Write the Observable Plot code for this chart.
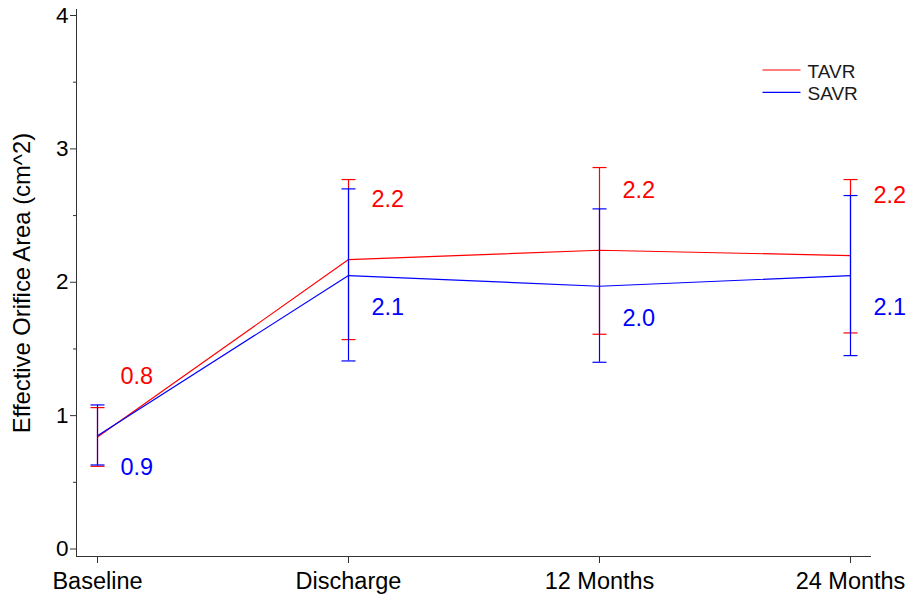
<!DOCTYPE html>
<html><head><meta charset="utf-8">
<script src="https://cdn.jsdelivr.net/npm/d3@7"></script>
<script src="https://cdn.jsdelivr.net/npm/@observablehq/plot@0.6"></script>
<style>body{margin:0;background:#fff}</style>
</head><body><div id="chart"></div>
<script>
const categories = ["Baseline", "Discharge", "12 Months", "24 Months"];
const seriesNames = ["TAVR", "SAVR"];
const seriesColors = ["#ff0000", "#0000ff"];
const tavrMean = [0.84, 2.17, 2.24, 2.20];
const tavrLow  = [0.62, 1.57, 1.61, 1.62];
const tavrHigh = [1.06, 2.77, 2.86, 2.77];
const tavrLabels = ["0.8", "2.2", "2.2", "2.2"];
const savrMean = [0.85, 2.05, 1.97, 2.05];
const savrLow  = [0.63, 1.41, 1.40, 1.45];
const savrHigh = [1.08, 2.70, 2.55, 2.65];
const savrLabels = ["0.9", "2.1", "2.0", "2.1"];
const yTicks = [0, 1, 2, 3, 4];
const yMinorTicks = [0.5, 1.5, 2.5, 3.5];
const yLabel = "Effective Orifice Area (cm^2)";

const rows = (mean, low, high, labels) =>
  categories.map((c, i) => ({cat: c, mean: mean[i], low: low[i], high: high[i], label: labels[i]}));
const tavr = rows(tavrMean, tavrLow, tavrHigh, tavrLabels);
const savr = rows(savrMean, savrLow, savrHigh, savrLabels);

const hline = {draw(ctx, size) { const r = Math.sqrt(size / Math.PI); ctx.moveTo(-r, 0); ctx.lineTo(r, 0); }};

function seriesMarks(data, color, labelDy) {
  return [
    Plot.ruleX(data, {x: "cat", y1: "low", y2: "high", stroke: color, strokeWidth: 1.2}),
    Plot.dot(data, {x: "cat", y: "high", symbol: hline, r: 7, stroke: color, fill: "none", strokeWidth: 1.2}),
    Plot.dot(data, {x: "cat", y: "low", symbol: hline, r: 7, stroke: color, fill: "none", strokeWidth: 1.2}),
    Plot.line(data, {x: "cat", y: "mean", stroke: color, strokeWidth: 1.2}),
    Plot.text(data, {x: "cat", y: "mean", text: "label", fill: color, fontSize: 23.5, textAnchor: "start", dx: 23, dy: labelDy})
  ];
}

const legendMarks = seriesNames.flatMap((name, i) => [
  Plot.dot([name], {frameAnchor: "top-right", dx: -89, dy: 60.5 + i * 22.4, symbol: hline, r: 19, stroke: seriesColors[i], fill: "none", strokeWidth: 1.2}),
  Plot.text([name], {frameAnchor: "top-right", dx: -63, dy: 62.5 + i * 22.4, text: d => d, textAnchor: "start", lineAnchor: "middle", fontSize: 19, fill: "#1a1a1a"})
]);

const chart = Plot.plot({
  width: 910,
  height: 599,
  marginLeft: 76,
  marginRight: 40,
  marginTop: 9,
  marginBottom: 43,
  style: {fontFamily: "'Liberation Sans', Arial, sans-serif", fontSize: "22px", background: "#fff", color: "#000"},
  x: {type: "point", domain: categories, range: [97, 850], padding: 0},
  y: {domain: [0, 4], range: [548.5, 15]},
  marks: [
    Plot.frame({anchor: "left", stroke: "#333"}),
    Plot.frame({anchor: "bottom", stroke: "#333"}),
    Plot.axisY({ticks: yTicks, tickFormat: d3.format("d"), tickSize: 6, tickPadding: 2, fontSize: 22.5, label: null, stroke: "#333"}),
    Plot.axisY({ticks: yMinorTicks, tickSize: 3, text: null, label: null, stroke: "#333"}),
    Plot.axisX({tickSize: 7, tickPadding: 9, fontSize: 23.5, label: null, stroke: "#333"}),
    Plot.text([yLabel], {frameAnchor: "left", text: d => d, rotate: -90, dx: -54, fontSize: 23.8, textAnchor: "middle"}),
    ...seriesMarks(tavr, seriesColors[0], -60),
    ...seriesMarks(savr, seriesColors[1], 32),
    ...legendMarks
  ]
});
document.getElementById("chart").appendChild(chart);
</script>
</body></html>
